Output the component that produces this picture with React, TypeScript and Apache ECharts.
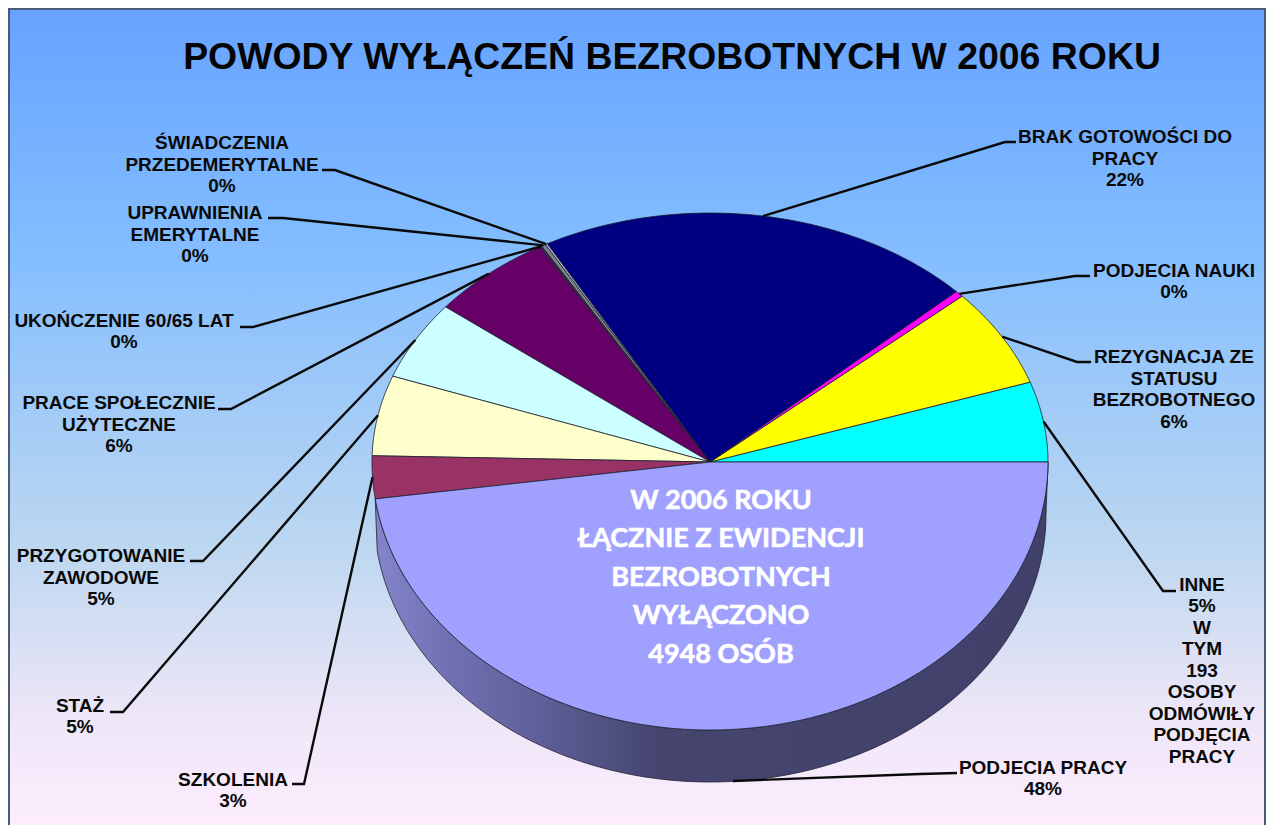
import React, { useEffect, useRef } from "react";
import * as echarts from "echarts";

// Slices run counter-clockwise from the east point of the pie
const sliceNames = [
  "INNE", "REZYGNACJA ZE STATUSU BEZROBOTNEGO", "PODJECIA NAUKI", "BRAK GOTOWOŚCI DO PRACY",
  "ŚWIADCZENIA PRZEDEMERYTALNE", "UPRAWNIENIA EMERYTALNE", "UKOŃCZENIE 60/65 LAT",
  "PRACE SPOŁECZNIE UŻYTECZNE", "PRZYGOTOWANIE ZAWODOWE", "STAŻ", "SZKOLENIA", "PODJECIA PRACY",
];
const sliceValues = [5.2, 6.4, 0.4, 21.0, 0.1, 0.2, 0.1, 5.9, 5.1, 5.2, 2.6, 47.8];
const sliceColors = [
  "#00FFFF", "#FFFF00", "#FF00FF", "#000080", "#C8C8D8", "#808090", "#333344",
  "#660066", "#CCFFFF", "#FFFFCC", "#993366", "#A0A0FF",
];
const labelTexts = [
  "INNE\n5%\nW\nTYM\n193\nOSOBY\nODMÓWIŁY\nPODJĘCIA\nPRACY",
  "REZYGNACJA ZE\nSTATUSU\nBEZROBOTNEGO\n6%",
  "PODJECIA NAUKI\n0%",
  "BRAK GOTOWOŚCI DO\nPRACY\n22%",
  "ŚWIADCZENIA\nPRZEDEMERYTALNE\n0%",
  "UPRAWNIENIA\nEMERYTALNE\n0%",
  "UKOŃCZENIE 60/65 LAT\n0%",
  "PRACE SPOŁECZNIE\nUŻYTECZNE\n6%",
  "PRZYGOTOWANIE\nZAWODOWE\n5%",
  "STAŻ\n5%",
  "SZKOLENIA\n3%",
  "PODJECIA PRACY\n48%",
];
const titleText = "POWODY WYŁĄCZEŃ BEZROBOTNYCH W 2006 ROKU";
const centerText = "W 2006 ROKU\nŁĄCZNIE Z EWIDENCJI\nBEZROBOTNYCH\nWYŁĄCZONO\n4948 OSÓB";

// Layout only: label centre and leader-line start / elbow
const labelLayout = [
  { c: [1202, 670], from: [1176, 591], elbow: [1163, 591] },
  { c: [1174, 389], from: [1091, 362], elbow: [1077, 362] },
  { c: [1174, 281], from: [1090, 276], elbow: [1075, 276] },
  { c: [1125, 158], from: [1016, 142], elbow: [1005, 142] },
  { c: [222, 164], from: [322, 170], elbow: [335, 170] },
  { c: [195, 234], from: [268, 218], elbow: [283, 218] },
  { c: [124, 331], from: [240, 327], elbow: [253, 327] },
  { c: [119, 424], from: [218, 409], elbow: [231, 409] },
  { c: [101, 577], from: [190, 561], elbow: [203, 561] },
  { c: [80, 716], from: [110, 712], elbow: [123, 712] },
  { c: [233, 790], from: [292, 784], elbow: [304, 784] },
  { c: [1043, 778], from: [957, 773], elbow: [920, 774], tip: [733, 781] },
];

const CX = 710, CY = 462, RX = 338, RY_TOP = 249, RY_BOTTOM = 268, DEPTH = 52, RX_BASE = 336;
const total = sliceValues.reduce((a, b) => a + b, 0);
const starts: number[] = [];
sliceValues.reduce((acc, v, i) => { starts[i] = acc; return acc + (v / total) * 360; }, 0);
const rad = (d: number) => (d * Math.PI) / 180;
const rim = (deg: number, rx = RX, dy = 0) => {
  const s = Math.sin(rad(deg));
  return [CX + rx * Math.cos(rad(deg)), CY + dy - s * (s >= 0 ? RY_TOP : RY_BOTTOM)];
};
const arc = (a: number, b: number, rx = RX, dy = 0) => {
  const pts: number[][] = [];
  const n = Math.max(2, Math.ceil(Math.abs(b - a)));
  for (let i = 0; i <= n; i++) pts.push(rim(a + ((b - a) * i) / n, rx, dy));
  return pts;
};
const sliceSpan = (i: number) => [starts[i], starts[i] + (sliceValues[i] / total) * 360];

const LABEL_FONT = { fontFamily: "Liberation Sans", fontWeight: "bold" as const, fontSize: 19, lineHeight: 21.5, fill: "#0a0a0a" };

export default function App() {
  const ref = useRef<HTMLDivElement>(null);
  useEffect(() => {
    document.body.style.margin = "0";
    const chart = echarts.init(ref.current!, undefined, { renderer: "svg" });
    const indexData = sliceValues.map((v, i) => ({ name: sliceNames[i], value: v }));
    chart.setOption({
      animation: false,
      backgroundColor: "#ffffff",
      title: {
        text: titleText, left: 667, top: 32, textAlign: "center",
        textStyle: { fontFamily: "Liberation Sans", fontWeight: "bold", fontSize: 37.4, color: "#050505" },
      },
      graphic: [
        {
          type: "rect", z: -10, silent: true,
          shape: { x: 9, y: 9, width: 1256, height: 830 },
          style: {
            fill: new echarts.graphic.LinearGradient(0, 0, 0, 1, [
              { offset: 0, color: "#66A3FF" },
              { offset: 0.3, color: "#84BEFF" },
              { offset: 0.65, color: "#BDD7F0" },
              { offset: 0.85, color: "#EDE6F7" },
              { offset: 1, color: "#FFEEFF" },
            ]),
            stroke: "#4a5a78", lineWidth: 2,
          },
        },
        {
          type: "text", z: 100, silent: true, x: 721, y: 575,
          style: {
            text: centerText, fill: "#ffffff", stroke: "#ffffff", lineWidth: 0.6,
            fontFamily: "Lato", fontWeight: "bold", fontSize: 27,
            lineHeight: 38.5, textAlign: "center", textVerticalAlign: "middle",
          },
        },
      ],
      series: [
        {
          type: "custom", coordinateSystem: "none", silent: true, z: 2, data: indexData,
          renderItem: (p: any) => {
            const [a, b] = sliceSpan(p.dataIndex);
            const from = Math.max(a, 180), to = Math.min(b, 360);
            if (a < 180 || to <= from) return { type: "group", children: [] };
            const pts = [...arc(a, b), ...arc(b, a, RX_BASE, DEPTH)];
            return {
              type: "polygon", shape: { points: pts },
              style: {
                fill: new echarts.graphic.LinearGradient(0, 0, 1, 0, [
                  { offset: 0, color: "#8484CC" },
                  { offset: 0.1, color: "#7272B4" },
                  { offset: 0.25, color: "#5E5E98" },
                  { offset: 0.42, color: "#45456F" },
                  { offset: 1, color: "#40406A" },
                ]),
                stroke: "#222233", lineWidth: 0.8,
              },
            };
          },
        },
        {
          type: "custom", coordinateSystem: "none", silent: true, z: 3, data: indexData,
          renderItem: (p: any) => {
            const [a, b] = sliceSpan(p.dataIndex);
            return {
              type: "polygon", shape: { points: [[CX, CY], ...arc(a, b)] },
              style: { fill: sliceColors[p.dataIndex], stroke: "#1c2230", lineWidth: 0.8 },
            };
          },
        },
        {
          type: "custom", coordinateSystem: "none", silent: true, z: 4, data: indexData,
          renderItem: (p: any) => {
            const i = p.dataIndex;
            const [a, b] = sliceSpan(i);
            const l = labelLayout[i] as any;
            const tip = l.tip || rim((a + b) / 2);
            return {
              type: "group",
              children: [
                {
                  type: "polyline", shape: { points: [l.from, l.elbow, tip] },
                  style: { stroke: "#0a0a0a", lineWidth: 2.4, fill: "none" },
                },
                {
                  type: "text",
                  style: {
                    x: l.c[0], y: l.c[1], text: labelTexts[i], textAlign: "center", textVerticalAlign: "middle",
                    ...LABEL_FONT,
                  },
                },
              ],
            };
          },
        },
      ],
    });
    return () => chart.dispose();
  }, []);
  return <div ref={ref} style={{ position: "absolute", left: 0, top: 0, width: 1273, height: 825, overflow: "hidden" }} />;
}
